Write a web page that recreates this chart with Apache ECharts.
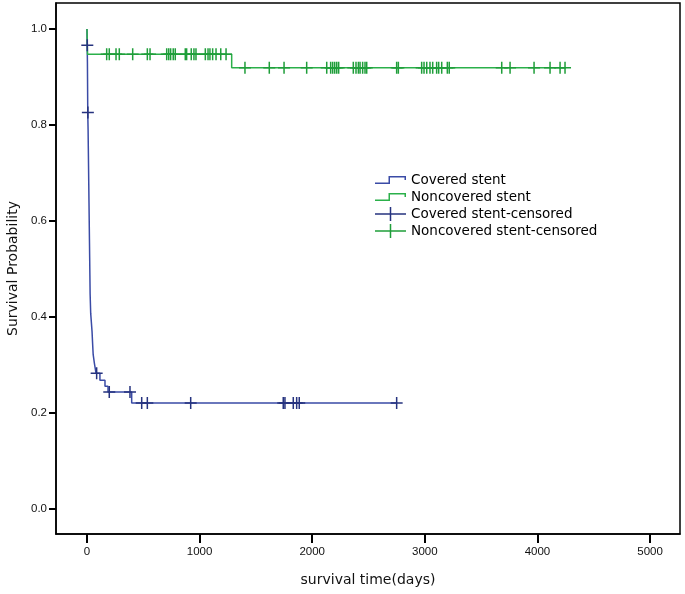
<!DOCTYPE html>
<html>
<head>
<meta charset="utf-8">
<script src="https://cdn.jsdelivr.net/npm/echarts@6/dist/echarts.min.js"></script>
<style>
html,body{margin:0;padding:0;background:#fff;}
#chart{width:685px;height:594px;}
</style>
</head>
<body>
<div id="chart"></div>
<script>
// Kaplan-Meier step data: event times (days) and survival after each event
const coveredTimes = [0, 2, 4, 5, 6, 7, 10, 12, 14, 16, 18, 20, 22, 24, 26, 28, 33, 45, 50, 55, 65, 80, 115, 160, 187, 397, 2750];
const coveredSurv  = [1.0, 0.966, 0.931, 0.897, 0.862, 0.826, 0.79, 0.752, 0.714, 0.676, 0.638, 0.6, 0.562, 0.524, 0.486, 0.448, 0.408, 0.37, 0.345, 0.322, 0.305, 0.283, 0.268, 0.256, 0.244, 0.221, 0.221];
const coveredCensored = [3, 8, 86, 198, 382, 486, 536, 921, 1743, 1758, 1832, 1862, 1885, 2750];

const noncoveredTimes = [0, 5, 1285, 4245];
const noncoveredSurv  = [1.0, 0.947, 0.919, 0.919];
const noncoveredCensored = [175, 198, 258, 287, 406, 536, 560, 708, 726, 743, 766, 784, 873, 885, 926, 950, 968,
  1051, 1075, 1092, 1116, 1146, 1188, 1235, 1403, 1619, 1750, 1951, 2129, 2164, 2182, 2200, 2218, 2235,
  2365, 2389, 2410, 2425, 2448, 2469, 2484, 2750, 2765, 2972, 2993, 3017, 3046, 3070, 3105, 3123, 3150,
  3200, 3217, 3683, 3757, 3970, 4112, 4201, 4245];

const xTicks = [0, 1000, 2000, 3000, 4000, 5000];
const yTicks = [0, 0.2, 0.4, 0.6, 0.8, 1.0];

const seriesNames = ['Covered stent', 'Noncovered stent', 'Covered stent-censored', 'Noncovered stent-censored'];

function survAt(times, surv, t) {
  let v = surv[0];
  for (let i = 0; i < times.length; i++) { if (times[i] <= t) v = surv[i]; }
  return v;
}
const coveredLine = coveredTimes.map((t, i) => [t, coveredSurv[i]]);
const noncoveredLine = noncoveredTimes.map((t, i) => [t, noncoveredSurv[i]]);
const coveredCens = coveredCensored.map(t => [t, survAt(coveredTimes, coveredSurv, t)]);
const noncoveredCens = noncoveredCensored.map(t => [t, survAt(noncoveredTimes, noncoveredSurv, t)]);

const blueLine = '#3a4ba6', blueCross = '#26337f';
const greenLine = '#2bb04a', greenCross = '#1f9e3a';

const crossPath = 'path://M0,5.25 H12 V6.75 H0 Z M5.25,0 H6.75 V12 H5.25 Z';
const stepIcon = 'path://M0,6.5 H15 V8 H0 Z M13.5,0 H15 V8 H13.5 Z M13.5,0 H31 V1.5 H13.5 Z M29.5,0 H31 V4 H29.5 Z';
const crossIcon = 'path://M0,6.25 H31 V7.75 H0 Z M14.75,0 H16.25 V14 H14.75 Z';

const chart = echarts.init(document.getElementById('chart'), null, {renderer: 'canvas'});
chart.setOption({
  animation: false,
  backgroundColor: '#fff',
  grid: {left: 56, top: 3, right: 5, bottom: 60, show: true, borderColor: '#000', borderWidth: 1.5,
    backgroundColor: 'transparent', containLabel: false, outerBoundsMode: 'none'},
  legend: {
    orient: 'vertical', left: 375, top: 173, padding: 0,
    itemWidth: 31, itemHeight: 14, itemGap: 3, itemTextGap: 5,
    symbolKeepAspect: true,
    textStyle: {fontFamily: 'DejaVu Sans', fontSize: 13.5, color: '#000'},
    data: [
      {name: seriesNames[0], icon: stepIcon, itemStyle: {color: blueLine}},
      {name: seriesNames[1], icon: stepIcon, itemStyle: {color: greenLine}},
      {name: seriesNames[2], icon: crossIcon, itemStyle: {color: blueCross}},
      {name: seriesNames[3], icon: crossIcon, itemStyle: {color: greenCross}}
    ]
  },
  xAxis: {
    type: 'value', min: -275, max: 5266,
    name: 'survival time(days)', nameLocation: 'middle', nameGap: 39,
    nameTextStyle: {fontFamily: 'DejaVu Sans', fontSize: 14, color: '#111'},
    axisLine: {show: true, onZero: false, lineStyle: {color: '#000', width: 1.5}},
    axisTick: {show: true, customValues: xTicks, length: 9, lineStyle: {color: '#000', width: 2}},
    axisLabel: {customValues: xTicks, margin: 12, fontFamily: 'Liberation Sans', fontSize: 11.5, color: '#111',
      formatter: v => String(v)},
    splitLine: {show: false}
  },
  yAxis: {
    type: 'value', min: -0.052, max: 1.054,
    name: 'Survival Probability', nameLocation: 'middle', nameGap: 36, nameRotate: 90,
    nameTextStyle: {fontFamily: 'DejaVu Sans', fontSize: 14, color: '#111'},
    axisLine: {show: true, onZero: false, lineStyle: {color: '#000', width: 1.5}},
    axisTick: {show: true, customValues: yTicks, length: 7, lineStyle: {color: '#000', width: 2}},
    axisLabel: {customValues: yTicks, margin: 9, fontFamily: 'Liberation Sans', fontSize: 11.5, color: '#111',
      formatter: v => v.toFixed(1)},
    splitLine: {show: false}
  },
  series: [
    {name: seriesNames[0], type: 'line', step: 'end', data: coveredLine, showSymbol: false, symbol: 'none',
      lineStyle: {color: blueLine, width: 1.5}, itemStyle: {color: blueLine}, z: 2},
    {name: seriesNames[1], type: 'line', step: 'end', data: noncoveredLine, showSymbol: false, symbol: 'none',
      lineStyle: {color: greenLine, width: 1.5}, itemStyle: {color: greenLine}, z: 3},
    {name: seriesNames[2], type: 'scatter', data: coveredCens, symbol: crossPath, symbolSize: 12,
      itemStyle: {color: blueCross, opacity: 1}, z: 4},
    {name: seriesNames[3], type: 'scatter', data: noncoveredCens, symbol: crossPath, symbolSize: 12,
      itemStyle: {color: greenCross, opacity: 1}, z: 5}
  ]
});
</script>
</body>
</html>
